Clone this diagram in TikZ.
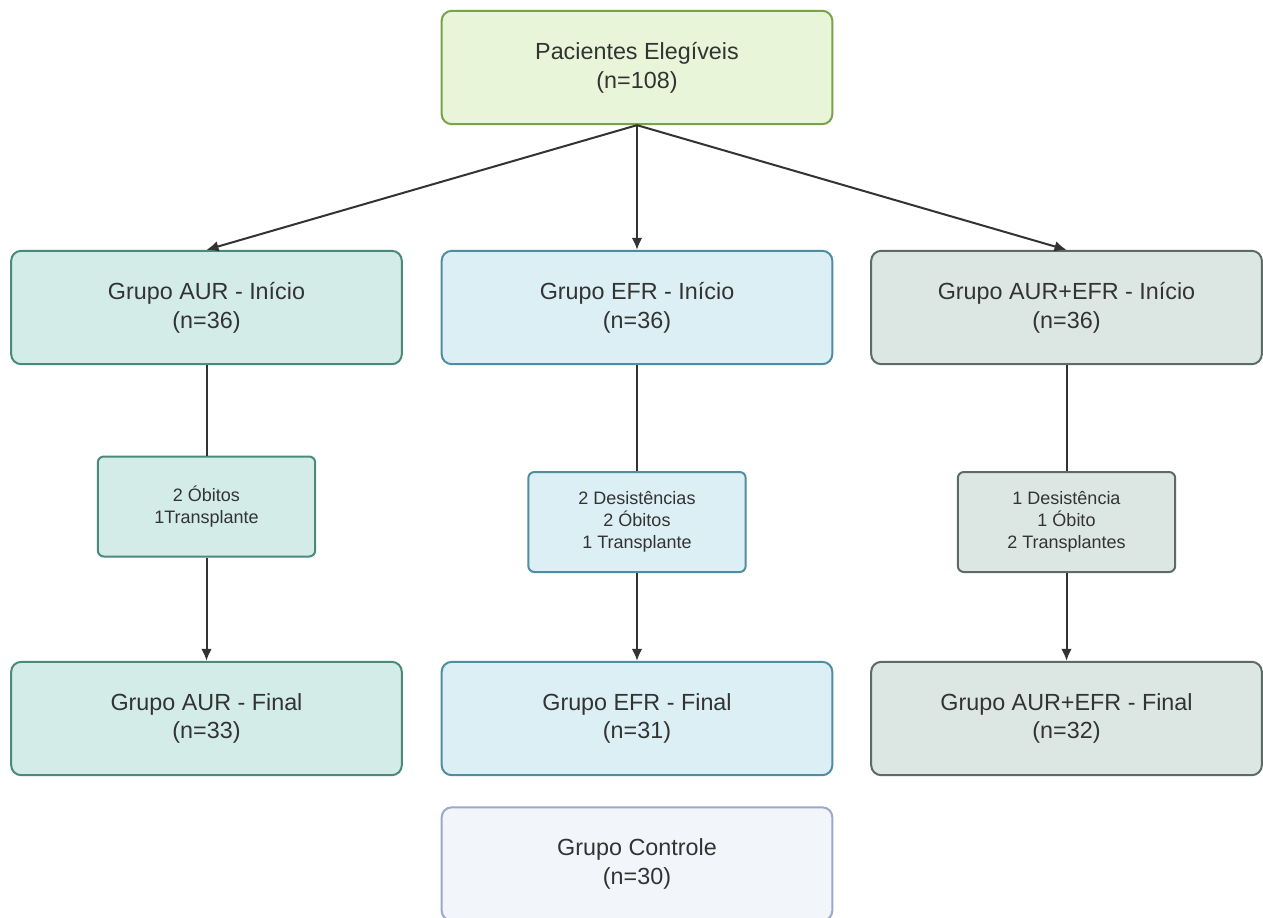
\documentclass[tikz,border=0pt]{standalone}
\usepackage{fontspec}
\setmainfont{Liberation Sans}
\usetikzlibrary{arrows.meta}
\definecolor{txt}{HTML}{333333}
\definecolor{lnc}{HTML}{333333}
\definecolor{topF}{HTML}{E9F5D9}
\definecolor{topD}{HTML}{7AA24B}
\definecolor{aurF}{HTML}{D3ECE7}
\definecolor{aurD}{HTML}{4B8A7B}
\definecolor{efrF}{HTML}{DBEFF5}
\definecolor{efrD}{HTML}{4F8EA0}
\definecolor{mixF}{HTML}{DCE7E3}
\definecolor{mixD}{HTML}{5D6B68}
\definecolor{ctlF}{HTML}{F2F5FA}
\definecolor{ctlD}{HTML}{9AA8CC}
\begin{document}
\begin{tikzpicture}[x=0.75pt,y=-0.75pt,
  bigbox/.style={draw, line width=1.5pt, rounded corners=7.5pt,
    minimum width=293pt, minimum height=85pt, align=center, text=txt,
    inner sep=0pt, font=\fontsize{17.5}{21.5}\selectfont},
  smallbox/.style={draw, line width=1.5pt, rounded corners=4.5pt,
    minimum width=163pt, minimum height=75pt, align=center, text=txt,
    inner sep=0pt, font=\fontsize{13.5}{16.5}\selectfont},
  conn/.style={draw=lnc, line width=1.5pt},
  arr/.style={conn, -{Latex[length=9pt,width=8pt]}}
]
\useasboundingbox (0,0) rectangle (1263,917);
\fill[white] (0,0) rectangle (1263,917);

\node[bigbox, fill=topF, draw=topD] (top) at (637,67.5) {Pacientes Elegíveis\\(n=108)};

\node[bigbox, fill=aurF, draw=aurD] (aurI) at (206.5,307.5) {Grupo AUR - Início\\(n=36)};
\node[bigbox, fill=efrF, draw=efrD] (efrI) at (637,307.5) {Grupo EFR - Início\\(n=36)};
\node[bigbox, fill=mixF, draw=mixD] (mixI) at (1066.5,307.5) {Grupo AUR+EFR - Início\\(n=36)};

\node[smallbox, fill=aurF, draw=aurD] (aurS) at (206.5,506.5) {2 Óbitos\\1Transplante};
\node[smallbox, fill=efrF, draw=efrD] (efrS) at (637,522) {2 Desistências\\2 Óbitos\\1 Transplante};
\node[smallbox, fill=mixF, draw=mixD] (mixS) at (1066.5,522) {1 Desistência\\1 Óbito\\2 Transplantes};

\node[bigbox, fill=aurF, draw=aurD] (aurF) at (206.5,718.5) {Grupo AUR - Final\\(n=33)};
\node[bigbox, fill=efrF, draw=efrD] (efrF) at (637,718.5) {Grupo EFR - Final\\(n=31)};
\node[bigbox, fill=mixF, draw=mixD] (mixF) at (1066.5,718.5) {Grupo AUR+EFR - Final\\(n=32)};

\node[bigbox, fill=ctlF, draw=ctlD] (ctl) at (637,864) {Grupo Controle\\(n=30)};

\draw[arr] (top.south) -- (aurI.north);
\draw[arr] (top.south) -- (efrI.north);
\draw[arr] (top.south) -- (mixI.north);

\draw[conn] (aurI) -- (aurS);
\draw[conn] (efrI) -- (efrS);
\draw[conn] (mixI) -- (mixS);

\draw[arr] (aurS) -- (aurF);
\draw[arr] (efrS) -- (efrF);
\draw[arr] (mixS) -- (mixF);
\end{tikzpicture}
\end{document}
